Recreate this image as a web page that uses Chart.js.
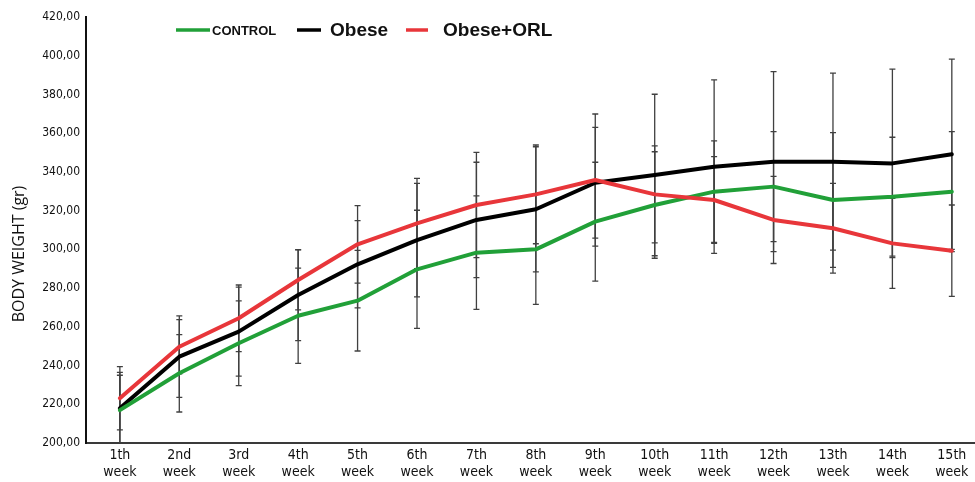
<!DOCTYPE html>
<html>
<head>
<meta charset="utf-8">
<title>Body weight by week</title>
<script src="https://cdn.jsdelivr.net/npm/chart.js@4.4.1/dist/chart.umd.min.js"></script>
<style>
  html, body { margin: 0; padding: 0; background: #ffffff; }
  #wrap { position: relative; width: 975px; height: 482px; }
</style>
</head>
<body>
<div id="wrap"><canvas id="chart"></canvas></div>
<script>
// Week labels (two lines each)
const weeks = ['1th', '2nd', '3rd', '4th', '5th', '6th', '7th', '8th', '9th', '10th', '11th', '12th', '13th', '14th', '15th'];

// Mean body weight (gr)
const controlMean = [217.0, 236.0, 251.5, 265.7, 273.5, 289.7, 298.3, 300.0, 314.3, 322.9, 329.8, 332.4, 325.5, 327.2, 329.8];
const obeseMean   = [217.9, 244.6, 257.5, 276.4, 292.3, 304.8, 315.2, 320.7, 334.4, 338.4, 342.7, 345.3, 345.3, 344.4, 349.1];
const orlMean     = [223.1, 249.7, 264.4, 284.2, 302.6, 313.4, 322.9, 328.4, 335.8, 328.4, 325.5, 315.2, 310.9, 303.1, 299.3];

// Standard deviations (error bars)
const controlSd = [18.0, 20.0, 21.9, 24.6, 26.0, 30.5, 29.3, 28.4, 30.7, 27.5, 26.2, 28.4, 34.8, 30.7, 31.0];
const obeseSd   = [18.6, 21.0, 23.0, 23.5, 22.5, 29.3, 29.8, 32.3, 28.6, 41.7, 44.8, 46.5, 45.7, 48.7, 49.1];
const orlSd     = [16.3, 14.0, 17.2, 15.5, 20.0, 23.3, 27.2, 25.5, 34.1, 25.0, 22.4, 22.5, 23.2, 23.2, 23.6];

// Y axis range
const yMin = 200;
const yMax = 420;
const yStep = 20;

const toPoints = (arr) => arr.map((v, i) => ({ x: i + 1, y: v }));

const GREEN = '#21a038';
const BLACK = '#000000';
const RED = '#e8363a';

// Vertical error bars with small caps, drawn under the lines
const errorBars = {
  id: 'errorBars',
  beforeDatasetsDraw(chart) {
    const { ctx, chartArea, scales: { x, y } } = chart;
    ctx.save();
    ctx.beginPath();
    ctx.rect(chartArea.left, chartArea.top, chartArea.right - chartArea.left, chartArea.bottom - chartArea.top);
    ctx.clip();
    ctx.strokeStyle = '#404040';
    ctx.lineWidth = 1.3;
    chart.data.datasets.forEach((ds) => {
      ds.data.forEach((p, i) => {
        const sd = ds.sd[i];
        const px = x.getPixelForValue(p.x);
        const top = y.getPixelForValue(p.y + sd);
        const bot = y.getPixelForValue(p.y - sd);
        ctx.beginPath();
        ctx.moveTo(px, top);
        ctx.lineTo(px, bot);
        ctx.moveTo(px - 3, top);
        ctx.lineTo(px + 3, top);
        ctx.moveTo(px - 3, bot);
        ctx.lineTo(px + 3, bot);
        ctx.stroke();
      });
    });
    ctx.restore();
  }
};

// Legend row and rotated axis title
const annotations = {
  id: 'annotations',
  afterDraw(chart) {
    const { ctx } = chart;
    ctx.save();
    const items = [
      { color: GREEN, x1: 176, x2: 210, text: 'CONTROL', tx: 212, font: 'bold 13px "Liberation Sans", Arial, sans-serif' },
      { color: BLACK, x1: 297, x2: 321, text: 'Obese', tx: 330, font: 'bold 19px "Liberation Sans", Arial, sans-serif' },
      { color: RED, x1: 406, x2: 428, text: 'Obese+ORL', tx: 443, font: 'bold 19px "Liberation Sans", Arial, sans-serif' }
    ];
    const ly = 30;
    items.forEach((it) => {
      ctx.strokeStyle = it.color;
      ctx.lineWidth = 3.5;
      ctx.beginPath();
      ctx.moveTo(it.x1, ly);
      ctx.lineTo(it.x2, ly);
      ctx.stroke();
      ctx.fillStyle = '#111111';
      ctx.font = it.font;
      ctx.textAlign = 'left';
      ctx.textBaseline = 'middle';
      ctx.fillText(it.text, it.tx, ly + 1);
    });

    ctx.translate(19, 254);
    ctx.rotate(-Math.PI / 2);
    ctx.fillStyle = '#111111';
    ctx.font = '16px "Open Sans", "DejaVu Sans", sans-serif';
    ctx.textAlign = 'center';
    ctx.textBaseline = 'middle';
    ctx.fillText('BODY WEIGHT (gr)', 0, 0);
    ctx.restore();
  }
};

new Chart(document.getElementById('chart'), {
  type: 'line',
  data: {
    datasets: [
      { label: 'Obese+ORL', data: toPoints(orlMean), sd: orlSd, borderColor: RED, order: 0 },
      { label: 'CONTROL', data: toPoints(controlMean), sd: controlSd, borderColor: GREEN, order: 1 },
      { label: 'Obese', data: toPoints(obeseMean), sd: obeseSd, borderColor: BLACK, order: 2 }
    ]
  },
  options: {
    responsive: true,
    maintainAspectRatio: false,
    animation: false,
    layout: { padding: { top: 17, right: 0, bottom: 0, left: 0 } },
    elements: {
      line: { borderWidth: 4, tension: 0, fill: false, borderCapStyle: 'round', borderJoinStyle: 'round' },
      point: { radius: 0, hoverRadius: 0 }
    },
    plugins: {
      legend: { display: false },
      tooltip: { enabled: false }
    },
    scales: {
      x: {
        type: 'linear',
        min: 0.43,
        max: 15.39,
        grid: { display: false, drawTicks: false },
        border: { display: true, color: '#3a3a3a', width: 2 },
        afterBuildTicks(scale) {
          scale.ticks = weeks.map((_, i) => ({ value: i + 1 }));
        },
        afterFit(scale) {
          scale.height = 39;
          scale.paddingLeft = 0;
          scale.paddingRight = 0;
        },
        ticks: {
          autoSkip: false,
          maxRotation: 0,
          padding: 4,
          color: '#111111',
          font: { family: '"DejaVu Sans Condensed", "DejaVu Sans", sans-serif', size: 14 },
          callback: (v) => [weeks[v - 1], 'week']
        }
      },
      y: {
        min: yMin,
        max: yMax,
        grid: { display: false, drawTicks: false },
        border: { display: true, color: '#111111', width: 2 },
        afterFit(scale) {
          scale.width = 86;
          scale.paddingTop = 0;
          scale.paddingBottom = 0;
        },
        ticks: {
          stepSize: yStep,
          padding: 6,
          color: '#111111',
          font: { family: '"DejaVu Sans Condensed", "DejaVu Sans", sans-serif', size: 12 },
          callback: (v) => v.toFixed(2).replace('.', ',')
        }
      }
    }
  },
  plugins: [errorBars, annotations]
});
</script>
</body>
</html>
